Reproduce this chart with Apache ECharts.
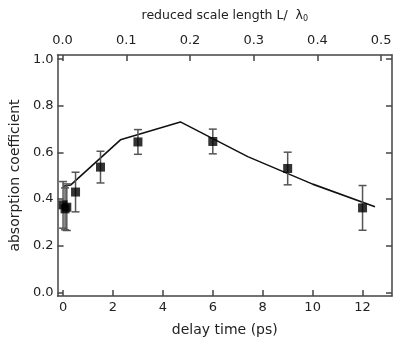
<!DOCTYPE html>
<html>
<head>
<meta charset="utf-8">
<script src="https://cdn.jsdelivr.net/npm/echarts@6/dist/echarts.min.js"></script>
<style>
  html, body { margin: 0; padding: 0; background: #fff; }
  #chart { width: 396px; height: 344px; }
</style>
</head>
<body>
<div id="chart"></div>
<script>
// measured points (delay time in ps, absorption, error)
const delayTimes = [0, 0.08, 0.15, 0.5, 1.5, 3, 6, 9, 12]
const absorption = [0.375, 0.358, 0.365, 0.43, 0.537, 0.645, 0.647, 0.531, 0.362]
const errors = [0.1, 0.09, 0.1, 0.085, 0.068, 0.053, 0.053, 0.07, 0.096]

// model curve
const modelTimes = [0, 0.3, 2.3, 4.7, 7.4, 10, 12.5]
const modelAbsorption = [0.455, 0.46, 0.654, 0.731, 0.582, 0.464, 0.367]

// tick labels
const delayTicks = [0, 2, 4, 6, 8, 10, 12]
const scaleTicks = [0, 0.1, 0.2, 0.3, 0.4, 0.5]
const absTicks = [0, 0.2, 0.4, 0.6, 0.8, 1.0]

const axisColor = '#444'
const font = 'DejaVu Sans, sans-serif'

const chart = echarts.init(document.getElementById('chart'))

const points = delayTimes.map((t, i) => [t, absorption[i]])
const errData = delayTimes.map((t, i) => [t, absorption[i], errors[i]])
const model = modelTimes.map((t, i) => [t, modelAbsorption[i]])

const baseAxis = {
  type: 'value',
  axisLine: { show: true, onZero: false, lineStyle: { color: axisColor, width: 1.5 } },
  axisTick: { show: true, inside: true, length: 6, lineStyle: { color: axisColor, width: 1.5 } },
  splitLine: { show: false },
  axisLabel: { color: '#222', fontSize: 13, fontFamily: font }
}

chart.setOption({
  animation: false,
  backgroundColor: '#fff',
  grid: { left: 55, right: 4, top: 55, bottom: 48 },
  xAxis: [
    {
      ...baseAxis,
      position: 'bottom',
      min: -0.22,
      max: 13.18,
      name: 'delay time (ps)',
      nameLocation: 'middle',
      nameGap: 27,
      nameTextStyle: { color: '#222', fontSize: 14, fontFamily: font },
      axisTick: { ...baseAxis.axisTick, customValues: delayTicks },
      axisLabel: { ...baseAxis.axisLabel, margin: 5, customValues: delayTicks }
    },
    {
      ...baseAxis,
      position: 'top',
      min: -0.0078,
      max: 0.517,
      name: 'reduced scale length L/  λ{sub|0}',
      nameLocation: 'middle',
      nameGap: 32,
      nameTextStyle: {
        color: '#222', fontSize: 12.5, fontFamily: font,
        rich: { sub: { fontSize: 8, fontFamily: font, color: '#222', padding: [7, 0, 0, 0] } }
      },
      axisTick: { ...baseAxis.axisTick, customValues: scaleTicks },
      axisLabel: {
        ...baseAxis.axisLabel, margin: 8, customValues: scaleTicks,
        formatter: v => v.toFixed(1)
      }
    }
  ],
  yAxis: [
    {
      ...baseAxis,
      position: 'left',
      min: -0.016,
      max: 1.018,
      name: 'absorption coefficient',
      nameLocation: 'middle',
      nameGap: 33,
      nameTextStyle: { color: '#222', fontSize: 14, fontFamily: font },
      axisTick: { ...baseAxis.axisTick, customValues: absTicks },
      axisLabel: {
        ...baseAxis.axisLabel, margin: 4, customValues: absTicks,
        formatter: v => v.toFixed(1)
      }
    },
    {
      ...baseAxis,
      position: 'right',
      min: -0.016,
      max: 1.018,
      axisTick: { ...baseAxis.axisTick, customValues: absTicks },
      axisLabel: { show: false }
    }
  ],
  series: [
    {
      type: 'line',
      data: model,
      symbol: 'none',
      lineStyle: { color: '#111', width: 1.6 },
      z: 3
    },
    {
      type: 'custom',
      data: errData,
      renderItem: (params, api) => {
        const x = api.value(0)
        const y = api.value(1)
        const e = api.value(2)
        const top = api.coord([x, y + e])
        const bot = api.coord([x, y - e])
        const hw = 4
        const style = { stroke: '#555', lineWidth: 1.5 }
        return {
          type: 'group',
          children: [
            { type: 'line', shape: { x1: top[0], y1: top[1], x2: bot[0], y2: bot[1] }, style },
            { type: 'line', shape: { x1: top[0] - hw, y1: top[1], x2: top[0] + hw, y2: top[1] }, style },
            { type: 'line', shape: { x1: bot[0] - hw, y1: bot[1], x2: bot[0] + hw, y2: bot[1] }, style }
          ]
        }
      },
      z: 4
    },
    {
      type: 'scatter',
      data: points,
      symbol: 'rect',
      symbolSize: 9,
      itemStyle: { color: '#000' },
      z: 5
    }
  ]
})
</script>
</body>
</html>
